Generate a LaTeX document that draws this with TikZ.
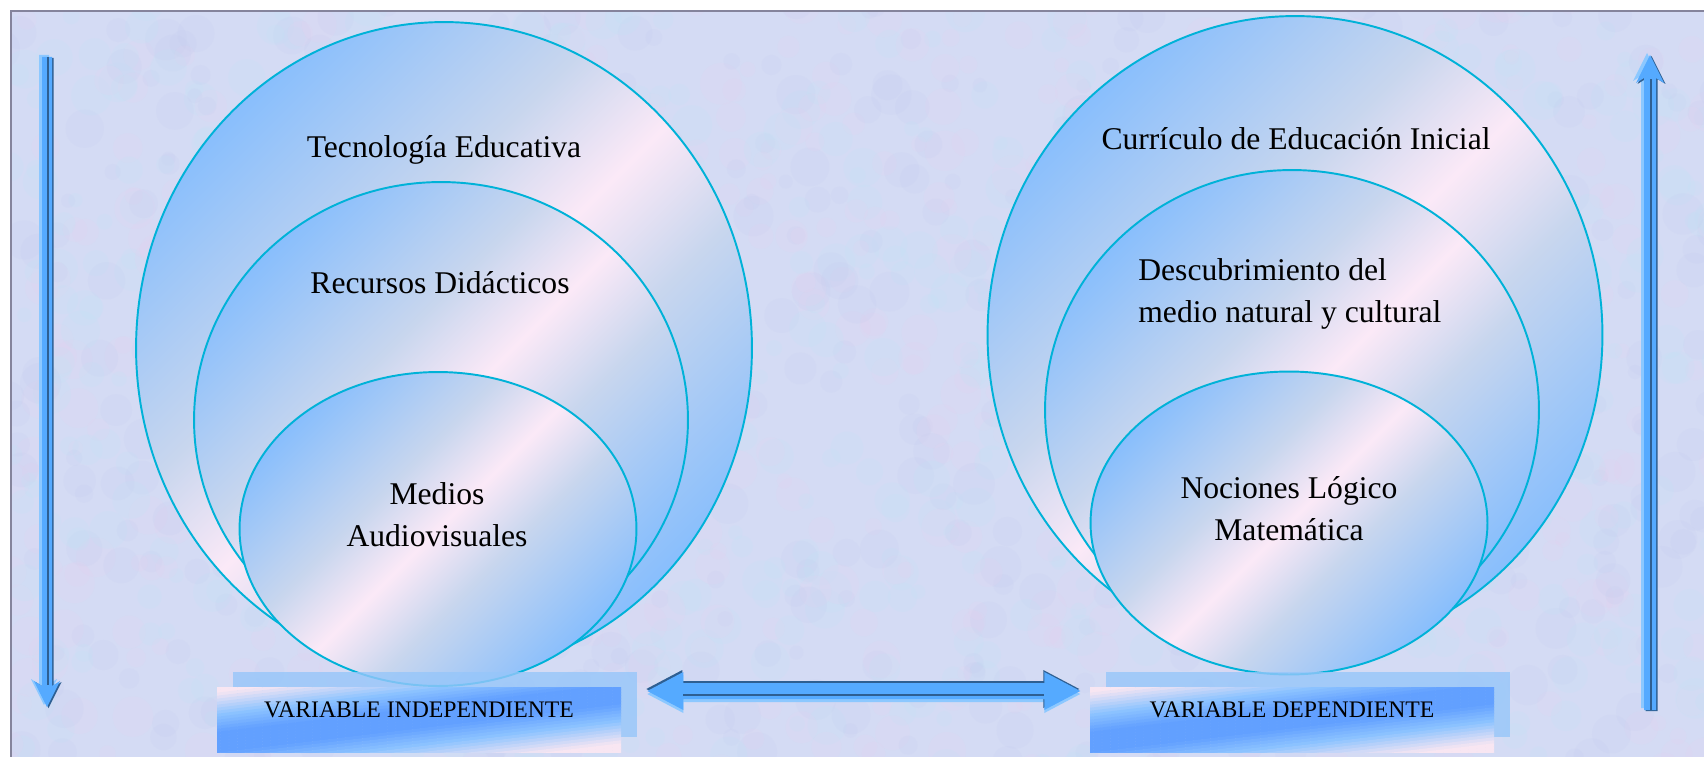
\documentclass[tikz,border=0pt]{standalone}
\usepackage{fontspec}
\setmainfont{Liberation Serif}
\usetikzlibrary{calc,shapes.geometric}
\definecolor{paperbg}{HTML}{D4DBF4}
\definecolor{framegray}{HTML}{85849C}
\definecolor{blot0}{HTML}{E8D0F0}
\definecolor{blot1}{HTML}{BEE6F4}
\definecolor{blot2}{HTML}{C2CAEE}
\definecolor{ringline}{HTML}{00B2D8}
\definecolor{ringdeep}{HTML}{6CAEFF}
\definecolor{ringblue}{HTML}{7DBAFF}
\definecolor{ringgray}{HTML}{C8D6EE}
\definecolor{ringpink}{HTML}{FBE9F7}
\definecolor{boxpink}{HTML}{F8E6F2}
\definecolor{boxsky}{HTML}{8EC4FF}
\definecolor{boxblue}{HTML}{62A0FF}
\definecolor{boxshade}{HTML}{96C6FA}
\definecolor{arrowblue}{HTML}{55AAFF}
\definecolor{arrowdark}{HTML}{2E5F92}
\definecolor{arrowlight}{HTML}{8CC8FF}
\pgfdeclareverticalshading{ringglow}{100bp}{color(0bp)=(ringdeep); color(22bp)=(ringblue);
   color(41bp)=(ringgray); color(50bp)=(ringpink); color(59bp)=(ringgray);
   color(78bp)=(ringblue); color(100bp)=(ringdeep)}
\tikzset{
   ring node/.style={ellipse,draw=ringline,line width=1.1pt,inner sep=0pt,outer sep=0pt,
                     shade,shading=ringglow,shading angle=45},
   ring text/.style={font=\fontsize{18}{24}\selectfont,inner sep=0pt,align=center},
   variable node/.style={rectangle,inner sep=0pt,minimum width=8.08cm,minimum height=1.3cm,
                     font=\fontsize{13.5}{16}\selectfont,text height=0.31cm,text depth=0.38cm},
   variable shadow/.style={rectangle,fill=boxshade,fill opacity=.8,inner sep=0pt,
                     minimum width=8.08cm,minimum height=1.3cm}
}

\begin{document}
\begin{tikzpicture}[x=0.02cm,y=-0.02cm]
\useasboundingbox (0,0) rectangle (1704,757);
\fill[white] (0,0) rectangle (1704,757);
% textured paper
\begin{scope}
  \clip (11,11) rectangle (1704,757);
  \fill[paperbg] (11,11) rectangle (1704,757);
  \pgfmathsetseed{11}
  \foreach \i in {1,...,1600}{
    \pgfmathsetmacro{\tx}{rnd*1720}
    \pgfmathsetmacro{\ty}{rnd*770}
    \pgfmathsetmacro{\tr}{7+rnd*14}
    \pgfmathtruncatemacro{\bk}{3*rnd}
    \fill[blot\bk, opacity=.16] (\tx,\ty) circle[radius=\tr];
  }
\end{scope}
\draw[framegray, line width=0.04cm] (11,757) -- (11,11) -- (1704,11);

% left group
\node[ring node, minimum width=12.32cm, minimum height=13.04cm] (tecnologia) at (444,348) {};
\node[ring node, minimum width=9.88cm,  minimum height=9.52cm]  (recursos)   at (441,420) {};
\node[ring node, minimum width=7.94cm,  minimum height=6.28cm]  (medios)     at (438,529) {};
\node[ring text] (tecnologia text) at (444,150) {Tecnología Educativa};
\node[ring text] (recursos text)   at (440,283) {Recursos Didácticos};
\node[ring text] (medios text)     at (437,515) {Medios\\Audiovisuales};

% right group
\node[ring node, minimum width=12.30cm, minimum height=12.76cm] (curriculo)    at (1295,335) {};
\node[ring node, minimum width=9.88cm,  minimum height=9.60cm]  (descubrim)    at (1292,410) {};
\node[ring node, minimum width=7.94cm,  minimum height=6.06cm]  (nociones)     at (1289,523) {};
\node[ring text] (curriculo text) at (1296,139) {Currículo de Educación Inicial};
\node[ring text, align=left, anchor=west] (descubrim text) at (1138,294) {Descubrimiento del\\medio natural y cultural};
\node[ring text] (nociones text)  at (1289,509) {Nociones Lógico\\Matemática};

% variables: shadow, slanted blue band (pink in two corners), then the label
\node[variable shadow] (indep shade) at (435,704.5) {};
\node[variable shadow] (dep shade)   at (1308,704.5) {};
\foreach \bx in {419,1292}{
  \begin{scope}
    \clip (\bx-202,687) rectangle (\bx+202,752);
    \foreach \u in {-60,-57,...,63}{
      \pgfmathsetmacro{\pb}{max(0,min(100,100*(28-abs(\u))/18))}
      \pgfmathsetmacro{\ps}{max(0,min(100,100*(50-abs(\u))/22))}
      \fill[boxblue!\pb!boxsky!\ps!boxpink]
        (\bx-215,\u+716.5+25.8) -- (\bx+215,\u+716.5-25.8) -- (\bx+215,\u+719.9-25.8) -- (\bx-215,\u+719.9+25.8) -- cycle;
    }
  \end{scope}
}
\node[variable node] (indep) at (419,719.5) {VARIABLE INDEPENDIENTE};
\node[variable node] (dep)   at (1292,719.5) {VARIABLE DEPENDIENTE};

% double arrow between the variables
\coordinate (link west) at ($(indep shade.east)+(10,-13.5)$);
\coordinate (link east) at ($(dep.west)+(-11,-28.5)$);
\begin{scope}[shift={(link west)}]
  \foreach \dx/\dy/\col in {0/3/arrowlight, -1/-2/arrowdark, 0/0/arrowblue}
    \fill[\col, shift={(\dx,\dy)}] (0,0) -- (36,-19) -- (36,-8) -- (397,-8) -- (397,-19) -- (433,0)
        -- (397,19) -- (397,8) -- (36,8) -- (36,19) -- cycle;
  \draw[arrowdark, line width=0.04cm] (36,3.5) -- (397,3.5);
\end{scope}

% left arrow, downwards
\coordinate (down tip) at (47,707);
\begin{scope}[shift={(down tip)}]
  \foreach \dx/\dy/\col in {-3/-2/arrowlight, 1.5/1/arrowdark, 0/0/arrowblue}
    \fill[\col, shift={(\dx,\dy)}] (-5,-650) -- (5,-650) -- (5,-21) -- (13,-26) -- (0,0)
        -- (-13,-26) -- (-5,-21) -- cycle;
  \draw[arrowdark, line width=0.035cm] (1,-650) -- (1,-22);
\end{scope}

% right arrow, upwards
\coordinate (up tip) at (1650,55);
\begin{scope}[shift={(up tip)}]
  \foreach \dx/\dy/\col in {-3/-2/arrowlight, 1.5/1/arrowdark, 0/0/arrowblue}
    \fill[\col, shift={(\dx,\dy)}] (-6,655) -- (6,655) -- (6,23) -- (14,28) -- (0,0)
        -- (-14,28) -- (-6,23) -- cycle;
  \draw[arrowdark, line width=0.035cm] (1,655) -- (1,24);
\end{scope}
\end{tikzpicture}
\end{document}
